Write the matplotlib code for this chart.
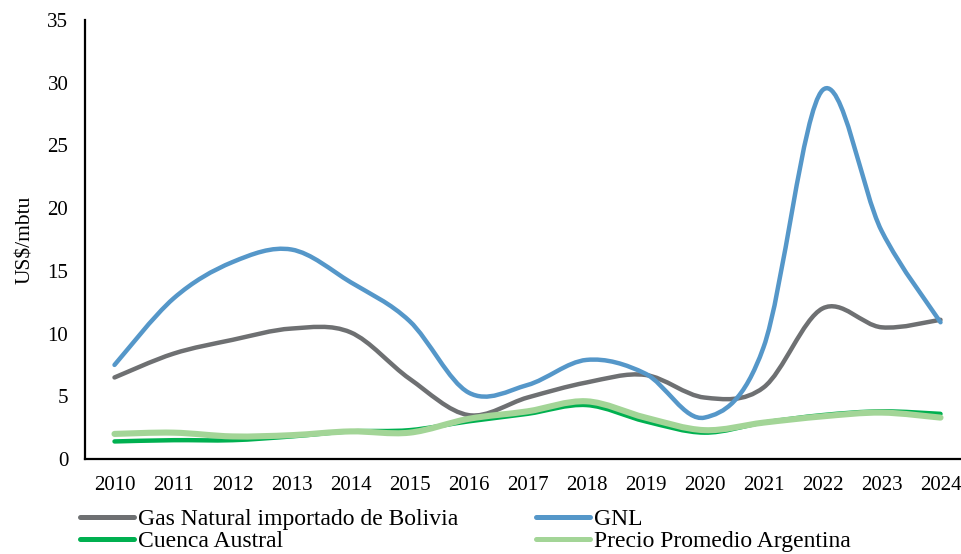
import numpy as np
import matplotlib
matplotlib.use('Agg')
from matplotlib import pyplot as plt
from matplotlib.path import Path
from matplotlib.patches import PathPatch
from matplotlib.lines import Line2D

plt.rcParams['font.family'] = ['Liberation Serif', 'DejaVu Serif']

# data (US$/mbtu)
years = list(range(2010, 2025))
bolivia = [6.5, 8.4, 9.5, 10.4, 10.1, 6.4, 3.5, 4.9, 6.1, 6.7, 4.9, 5.7, 12.0, 10.5, 11.1]
gnl = [7.5, 12.8, 15.7, 16.7, 14.1, 11.0, 5.3, 5.9, 7.9, 6.8, 3.3, 8.9, 29.4, 18.2, 10.9]
austral = [1.4, 1.5, 1.5, 1.8, 2.2, 2.3, 3.0, 3.6, 4.3, 3.0, 2.1, 2.9, 3.5, 3.8, 3.6]
promedio = [2.0, 2.1, 1.8, 1.9, 2.2, 2.1, 3.2, 3.8, 4.6, 3.3, 2.3, 2.9, 3.4, 3.7, 3.3]


def smooth_path(x, y):
    '''bezier path like excel "smoothed line"'''
    pts = np.column_stack([x, y]).astype(float)
    n = len(pts)
    verts = [pts[0]]
    codes = [Path.MOVETO]
    for i in range(n - 1):
        p0 = pts[i - 1] if i > 0 else pts[i]
        p1 = pts[i]
        p2 = pts[i + 1]
        p3 = pts[i + 2] if i + 2 < n else pts[i + 1]
        c1 = p1 + (p2 - p0) / 6.0
        c2 = p2 - (p3 - p1) / 6.0
        verts += [c1, c2, p2]
        codes += [Path.CURVE4] * 3
    return Path(verts, codes)


fig = plt.figure(figsize=(9.62, 5.54), dpi=100)
ax = fig.add_axes([85 / 962, 1 - 459 / 554, 885 / 962, 439 / 554])

series = [
    (bolivia, '#6e7072', 3.2, 'Gas Natural importado de Bolivia'),
    (gnl, '#5597c9', 3.2, 'GNL'),
    (austral, '#00b050', 3.2, 'Cuenca Austral'),
    (promedio, '#a3d597', 4.4, 'Precio Promedio Argentina'),
]
for vals, col, lw, lab in series:
    patch = PathPatch(smooth_path(years, vals), facecolor='none', edgecolor=col,
                      lw=lw, capstyle='round', joinstyle='round')
    ax.add_patch(patch)

ax.set_xlim(2009.5, 2024.5)
ax.set_ylim(0, 35)
ax.set_xticks(years)
ax.set_yticks(range(0, 36, 5))
ax.tick_params(length=0, labelsize=15)
ax.tick_params(axis='x', pad=12)
ax.tick_params(axis='y', pad=12)
for s in ['top', 'right']:
    ax.spines[s].set_visible(False)
ax.spines['left'].set_linewidth(1.6)
ax.spines['bottom'].set_linewidth(1.6)
ax.set_ylabel('US$/mbtu', fontsize=15.5, labelpad=9)

handles = [Line2D([], [], color=c, lw=3.6, solid_capstyle='round') for _, c, _, _ in series]
labels = [lab for _, _, _, lab in series]
order = [0, 2, 1, 3]
fig.legend([handles[i] for i in order], [labels[i] for i in order], ncol=2,
           loc='lower left', bbox_to_anchor=(80 / 962, 0.004), frameon=False,
           fontsize=17, handlelength=2.3, handletextpad=0.15, columnspacing=3.3,
           labelspacing=0.0, borderaxespad=0, borderpad=0)

fig.savefig('out.png', dpi=100)
